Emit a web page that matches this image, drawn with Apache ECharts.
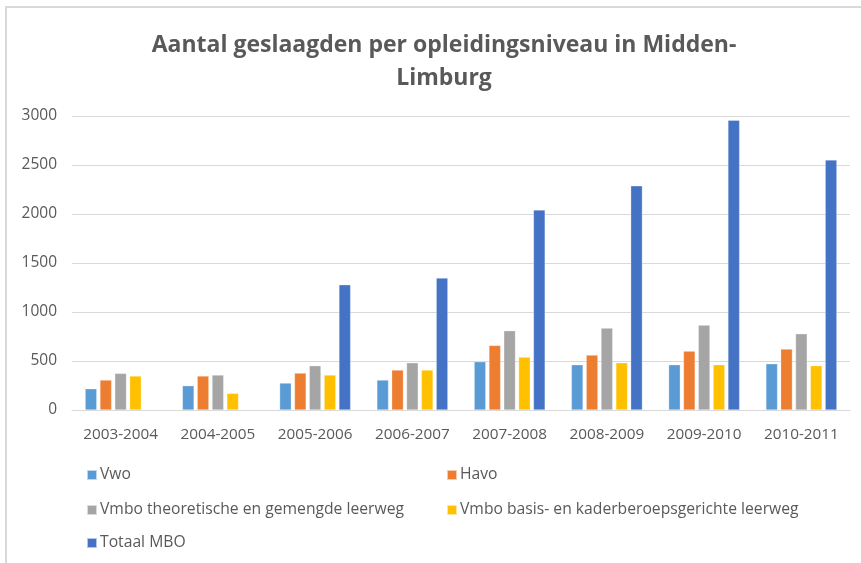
<!DOCTYPE html>
<html>
<head>
<meta charset="utf-8">
<script src="https://cdn.jsdelivr.net/npm/echarts@6/dist/echarts.min.js"></script>
<style>
  html, body { margin: 0; padding: 0; background: #fff; }
  #chart { width: 861px; height: 563px; }
</style>
</head>
<body>
<div id="chart"></div>
<script>
// School years
const categories = ['2003-2004', '2004-2005', '2005-2006', '2006-2007', '2007-2008', '2008-2009', '2009-2010', '2010-2011'];

// Number of graduates per education level
const vwo = [217, 248, 275, 306, 493, 462, 462, 472];
const havo = [306, 347, 377, 408, 659, 561, 601, 622];
const vmboTheoretisch = [374, 357, 452, 482, 809, 836, 866, 778];
const vmboBasis = [347, 170, 357, 408, 540, 482, 462, 452];
const totaalMbo = [null, null, 1278, 1346, 2042, 2287, 2956, 2552];

const yTicks = { min: 0, max: 3000, interval: 500 };

const seriesNames = [
  'Vwo',
  'Havo',
  'Vmbo theoretische en gemengde leerweg',
  'Vmbo basis- en kaderberoepsgerichte leerweg',
  'Totaal MBO'
];
const seriesData = [vwo, havo, vmboTheoretisch, vmboBasis, totaalMbo];
const colors = ['#5B9BD5', '#ED7D31', '#A5A5A5', '#FFC000', '#4472C4'];

const textColor = '#595959';
const font = 'Open Sans, Noto Sans, sans-serif';

// legend: two columns, three rows
const legendSlots = [
  { name: seriesNames[0], left: 86, top: 467 },
  { name: seriesNames[1], left: 446, top: 467 },
  { name: seriesNames[2], left: 86, top: 502 },
  { name: seriesNames[3], left: 446, top: 502 },
  { name: seriesNames[4], left: 86, top: 535 }
];

const chart = echarts.init(document.getElementById('chart'), null, { renderer: 'canvas' });

chart.setOption({
  backgroundColor: '#ffffff',
  animation: false,
  color: colors,
  title: {
    text: 'Aantal geslaagden per opleidingsniveau in Midden-\nLimburg',
    left: 439,
    top: 24,
    textAlign: 'center',
    textStyle: {
      color: textColor,
      fontFamily: font,
      fontWeight: 'bold',
      fontSize: 23,
      lineHeight: 33
    }
  },
  graphic: [
    {
      type: 'polyline',
      shape: { points: [[6, 563], [6, 7], [861, 7]] },
      style: { stroke: '#d9d9d9', lineWidth: 2, fill: null },
      silent: true
    }
  ],
  legend: legendSlots.map(s => ({
    data: [s.name],
    left: s.left,
    top: s.top,
    padding: 0,
    itemWidth: 10,
    itemHeight: 10,
    icon: 'rect',
    itemGap: 0,
    textStyle: { color: textColor, fontFamily: font, fontSize: 15.7, padding: [0, 0, 0, -2] }
  })),
  grid: {
    left: 72,
    right: 11,
    top: 116,
    bottom: 153,
    containLabel: false
  },
  xAxis: {
    type: 'category',
    data: categories,
    axisTick: { show: false },
    axisLine: { show: true, lineStyle: { color: '#d9d9d9', width: 1 } },
    axisLabel: {
      color: textColor,
      fontFamily: font,
      fontSize: 15.3,
      margin: 17,
      interval: 0
    }
  },
  yAxis: {
    type: 'value',
    min: yTicks.min,
    max: yTicks.max,
    interval: yTicks.interval,
    axisLine: { show: false },
    axisTick: { show: false },
    splitLine: { lineStyle: { color: '#d9d9d9', width: 1 } },
    axisLabel: {
      color: textColor,
      fontFamily: font,
      fontSize: 15.5,
      margin: 15,
      formatter: v => String(v)
    }
  },
  series: seriesNames.map((name, i) => ({
    name: name,
    type: 'bar',
    data: seriesData[i],
    barGap: '27%',
    barCategoryGap: '27%',
    itemStyle: { color: colors[i], borderColor: 'rgba(255,255,255,0.6)', borderWidth: 0.5 }
  }))
});
</script>
</body>
</html>
